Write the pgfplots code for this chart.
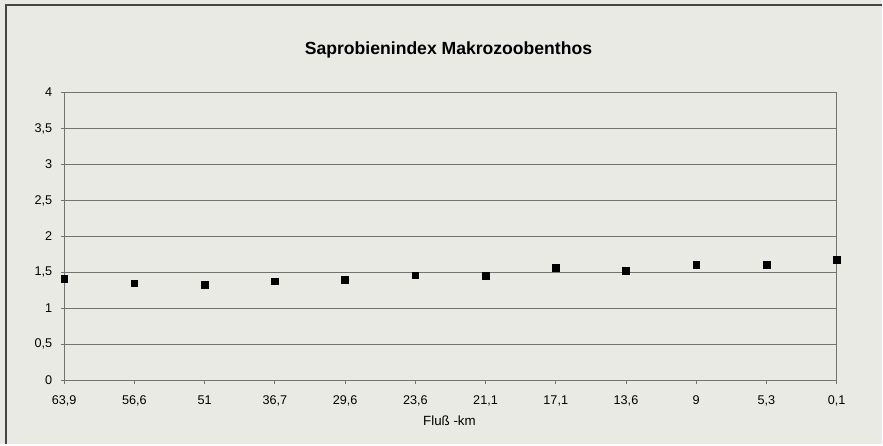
\documentclass[border=0pt]{standalone}
\usepackage{pgfplots}
\pgfplotsset{compat=1.18}
\usepackage{fontspec}
\setmainfont{Liberation Sans}
\definecolor{bg}{RGB}{234,234,229}
\definecolor{gridc}{RGB}{115,115,115}
\definecolor{framec}{RGB}{70,70,70}
\begin{document}
\begin{tikzpicture}[x=0.75pt,y=0.75pt]
\fill[bg] (0,0) rectangle (883,445);
\draw[line width=1.5pt, framec] (6,0) -- (6,440) -- (883,440);
\begin{axis}[
  at={(48.2pt,48.2pt)}, anchor=south west,
  scale only axis, width=580pt, height=216pt,
  xmin=0, xmax=11, ymin=0, ymax=4,
  xtick={0,...,11},
  xticklabels={{63,9}, {56,6}, {51}, {36,7}, {29,6}, {23,6}, {21,1}, {17,1}, {13,6}, {9}, {5,3}, {0,1}},
  ytick={0,0.5,...,4},
  ymajorgrids, major grid style={gridc, line width=0.7pt},
  axis line style={gridc, line width=0.7pt},
  tick align=outside, major tick length=2.5pt,
  tick style={gridc, line width=0.6pt},
  xtick pos=bottom, ytick pos=left,
  /pgf/number format/use comma,
  /pgf/number format/assume math mode=true,
  ticklabel style={font=\fontsize{9.5}{11}\selectfont, text=black},
  xticklabel style={yshift=-5.5pt},
  yticklabel style={xshift=-3pt},
  clip=false,
]
\addplot[only marks, mark=square*, mark size=2.5pt, black] coordinates {
(0,1.41) (1,1.35) (2,1.325) (3,1.375) (4,1.40) (5,1.46)
(6,1.45) (7,1.565) (8,1.52) (9,1.61) (10,1.61) (11,1.68)
};
\end{axis}
\node[font=\bfseries\fontsize{13.2}{15}\selectfont, text=black] at (449,395) {Saprobienindex Makrozoobenthos};
\node[font=\fontsize{10}{12}\selectfont, text=black] at (450,24) {Fluß -km};
\end{tikzpicture}
\end{document}
